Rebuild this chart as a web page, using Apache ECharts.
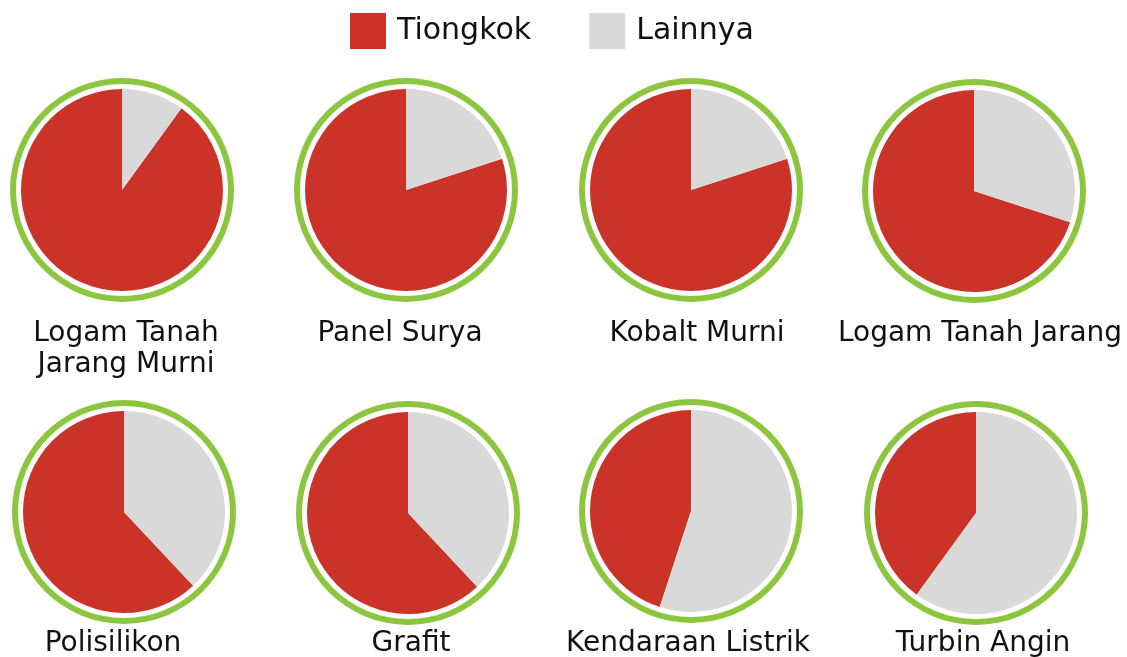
<!DOCTYPE html>
<html>
<head>
<meta charset="utf-8">
<script src="https://cdn.jsdelivr.net/npm/echarts@6/dist/echarts.min.js"></script>
<style>
  html, body { margin: 0; padding: 0; background: #fff; }
  #chart { width: 1127px; height: 657px; }
</style>
</head>
<body>
<div id="chart"></div>
<script>
// data
const categories = [
  'Logam Tanah\nJarang Murni', 'Panel Surya', 'Kobalt Murni', 'Logam Tanah Jarang',
  'Polisilikon', 'Grafit', 'Kendaraan Listrik', 'Turbin Angin'
]
const chinaShare = [90, 80, 80, 70, 62, 62, 45, 40]
const otherShare = [10, 20, 20, 30, 38, 38, 55, 60]
const seriesNames = ['Tiongkok', 'Lainnya']

// layout
const pieCenters = [
  [122, 190], [406, 190], [691, 190], [974, 191],
  [124, 512], [408, 513], [691, 511], [976, 513]
]
const labelPos = [
  [126, 318], [400, 318], [697, 318], [980, 318],
  [113, 628], [411, 628], [688, 628], [983, 628]
]

const colors = { china: '#cc3328', other: '#d9d9d9', ring: '#8cc63f', text: '#111111' }
const FONT = 'DejaVu Sans'

const chart = echarts.init(document.getElementById('chart'))

const series = []
categories.forEach((cat, i) => {
  // green ring around each pie
  series.push({
    type: 'pie',
    silent: true,
    center: pieCenters[i],
    radius: [106, 112],
    label: { show: false },
    labelLine: { show: false },
    emphasis: { disabled: true },
    animation: false,
    data: [{ name: 'cincin', value: 1, itemStyle: { color: colors.ring } }],
  })
  series.push({
    type: 'pie',
    name: cat,
    center: pieCenters[i],
    radius: 101,
    startAngle: 90,
    clockwise: false,
    label: { show: false },
    labelLine: { show: false },
    emphasis: { scale: false },
    animation: false,
    data: [
      { name: seriesNames[0], value: chinaShare[i], itemStyle: { color: colors.china } },
      { name: seriesNames[1], value: otherShare[i], itemStyle: { color: colors.other } },
    ],
  })
})

const option = {
  backgroundColor: '#ffffff',
  color: [colors.china, colors.other],
  legend: {
    data: seriesNames,
    left: 350,
    top: 13,
    padding: 0,
    icon: 'rect',
    itemWidth: 36,
    itemHeight: 36,
    itemGap: 58,
    textStyle: { fontFamily: FONT, fontSize: 30, color: colors.text, padding: [0, 0, 0, 6] },
  },
  title: categories.map((cat, i) => ({
    text: cat,
    left: labelPos[i][0],
    top: labelPos[i][1],
    textAlign: 'center',
    padding: 0,
    textStyle: {
      fontFamily: FONT,
      fontSize: 28,
      fontWeight: 'normal',
      lineHeight: 31,
      color: colors.text,
    },
  })),
  series,
}

chart.setOption(option)
</script>
</body>
</html>
